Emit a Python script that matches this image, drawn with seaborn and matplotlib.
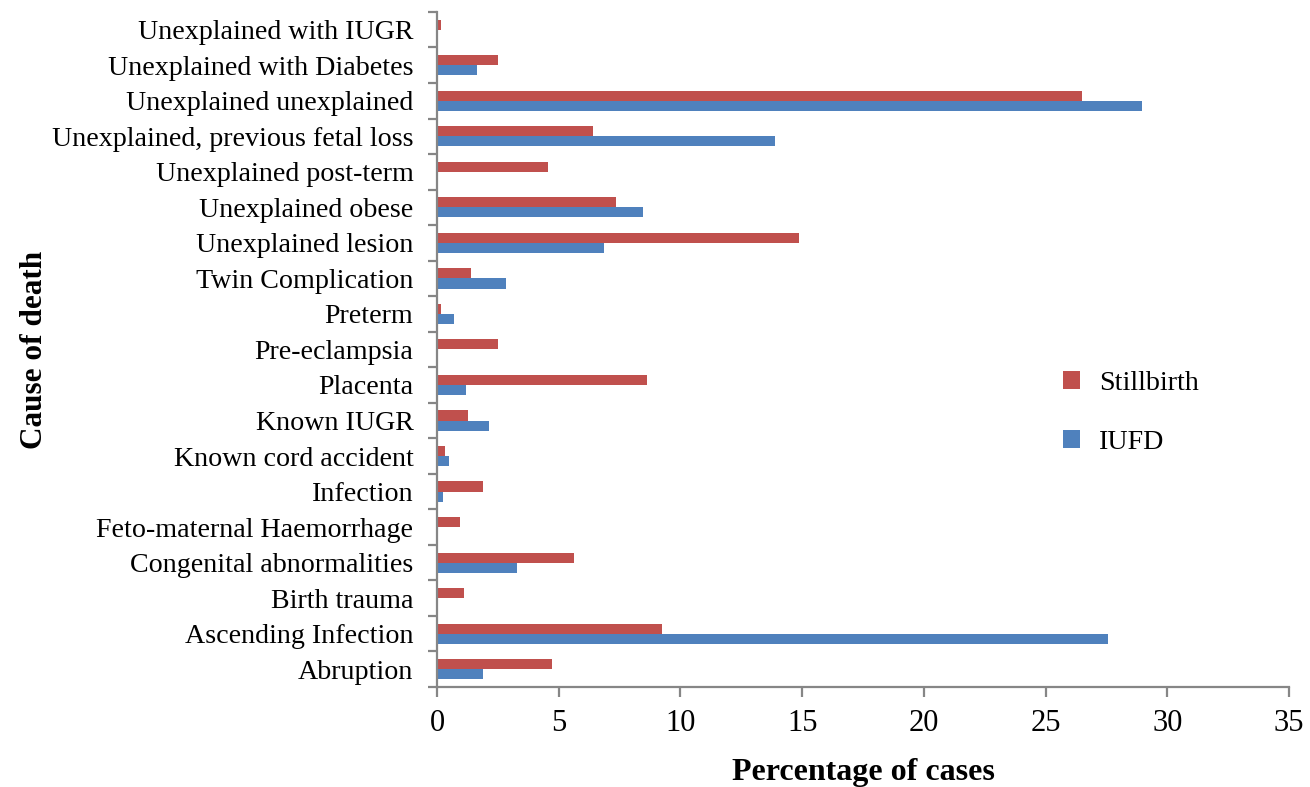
import pandas as pd
import numpy as np
import matplotlib
matplotlib.use('Agg')
import matplotlib.pyplot as plt
import seaborn as sns
from matplotlib.ticker import FixedLocator

plt.rcParams['font.family'] = ['Liberation Serif', 'DejaVu Serif']

causes = [
    "Unexplained with IUGR", "Unexplained with Diabetes", "Unexplained unexplained",
    "Unexplained, previous fetal loss", "Unexplained post-term", "Unexplained obese",
    "Unexplained lesion", "Twin Complication", "Preterm", "Pre-eclampsia",
    "Placenta", "Known IUGR", "Known cord accident", "Infection",
    "Feto-maternal Haemorrhage", "Congenital abnormalities", "Birth trauma",
    "Ascending Infection", "Abruption",
]
stillbirth = [0.16, 2.5, 26.5, 6.42, 4.56, 7.37, 14.89, 1.41, 0.16, 2.5,
              8.63, 1.26, 0.33, 1.89, 0.95, 5.64, 1.1, 9.24, 4.71]
iufd = [0.0, 1.66, 28.96, 13.9, 0.0, 8.48, 6.84, 2.84, 0.71, 0.0,
        1.18, 2.12, 0.49, 0.23, 0.0, 3.29, 0.0, 27.55, 1.89]
series = ["Stillbirth", "IUFD"]
colors = ["#C0504D", "#4F81BD"]

df = pd.DataFrame({
    'Cause': causes * 2,
    'Percentage': stillbirth + iufd,
    'Series': [series[0]] * len(causes) + [series[1]] * len(causes),
})

fig = plt.figure(figsize=(13.1, 7.87), dpi=100)
ax = fig.add_axes([0.3336, 0.1271, 0.6504, 0.8577])

sns.barplot(data=df, y='Cause', x='Percentage', hue='Series', order=causes,
            hue_order=series, palette=colors, width=0.57, orient='h',
            saturation=1, edgecolor='none', ax=ax)

ax.set_xlim(0, 35)
ax.set_xticks(range(0, 36, 5))
ax.set_ylim(len(causes) - 0.5, -0.5)

for s in ['top', 'right']:
    ax.spines[s].set_visible(False)
for s in ['left', 'bottom']:
    ax.spines[s].set_color('#868686')
    ax.spines[s].set_linewidth(1.6)

ax.yaxis.set_minor_locator(FixedLocator(np.arange(-0.5, len(causes), 1.0)))
ax.tick_params(axis='y', which='major', length=0, pad=17, labelsize=20.2)
ax.tick_params(axis='y', which='minor', length=6.5, width=1.6, color='#868686')
ax.tick_params(axis='x', which='major', length=7, width=1.6, color='#868686',
               pad=9, labelsize=22)

ax.set_xlabel('Percentage of cases', fontsize=23, fontweight='bold', labelpad=14)
ax.set_ylabel('Cause of death', fontsize=22.5, fontweight='bold')
ax.yaxis.set_label_coords(-0.455, 0.5)

ax.legend(loc='center left', bbox_to_anchor=(0.705, 0.406), frameon=False,
          fontsize=20.2, handlelength=0.6, handleheight=0.6, labelspacing=1.2,
          handletextpad=0.7)

plt.savefig('out.png', dpi=100)
